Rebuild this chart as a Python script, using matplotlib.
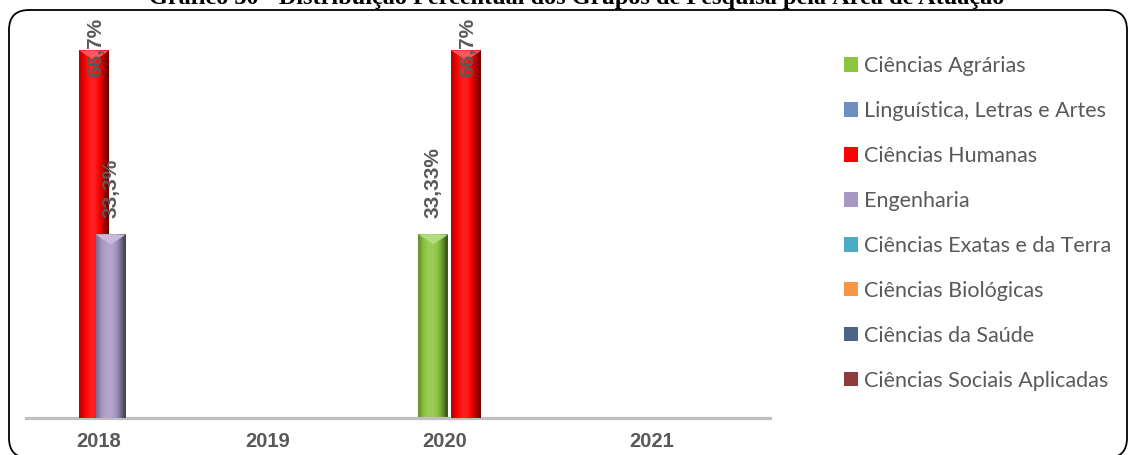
import numpy as np
import matplotlib.pyplot as plt
from matplotlib.colors import to_rgb
from matplotlib.patches import FancyBboxPatch, Patch, Polygon

# dados
anos = ["2018", "2019", "2020", "2021"]
areas = ["Ciências Agrárias", "Linguística, Letras e Artes", "Ciências Humanas",
         "Engenharia", "Ciências Exatas e da Terra", "Ciências Biológicas",
         "Ciências da Saúde", "Ciências Sociais Aplicadas"]
agrarias = [0, 0, 33.33, 0]
linguistica = [0, 0, 0, 0]
humanas = [66.7, 0, 66.7, 0]
engenharia = [33.3, 0, 0, 0]
exatas = [0, 0, 0, 0]
biologicas = [0, 0, 0, 0]
saude = [0, 0, 0, 0]
sociais = [0, 0, 0, 0]
rotulos_agrarias = ["", "", "33,33%", ""]
rotulos_humanas = ["66,7%", "", "66,7%", ""]
rotulos_engenharia = ["33,3%", "", "", ""]

series = [agrarias, linguistica, humanas, engenharia, exatas, biologicas, saude, sociais]
rotulos = [rotulos_agrarias, None, rotulos_humanas, rotulos_engenharia,
           None, None, None, None]
cores = ["#8CC63F", "#6F8FC0", "#FF0000", "#A898C4", "#4BACC6", "#F79646", "#4A6585", "#8E3B3B"]

W, H = 1131, 455
fig = plt.figure(figsize=(W / 100, H / 100), dpi=100)
cinza = "#595959"
fonte_rot = "Liberation Sans"

# moldura arredondada
fig.patches.append(FancyBboxPatch((9, -3), 1118, H - 10 + 3,
                                  boxstyle="round,pad=0,rounding_size=20",
                                  transform=None, fill=False, ec="black", lw=1.3))

fig.text(577 / W, 1 - 4 / H,
         "Gráfico 30 - Distribuição Percentual dos Grupos de Pesquisa pela Área de Atuação",
         ha="center", va="baseline", family="Liberation Serif", weight="bold", fontsize=17.5)

ax = fig.add_axes([26 / W, 37 / H, 744 / W, 400 / H])
ytop = 72.6
passo = 16.5 / 186.5
larg = 30 / 186.5


def barra(ax, x, h, cor, z):
    c = np.array(to_rgb(cor))
    f = np.array([0.75, 0.95, 1.05, 1.12, 1.12, 1.05, 0.9, 0.7, 0.45])
    lin = []
    for k in f:
        if k <= 1:
            lin.append(c * k)
        else:
            lin.append(c + (1 - c) * (k - 1))
    img = np.array(lin)[None, :, :]
    ax.imshow(img, extent=(x - larg / 2, x + larg / 2, 0, h), aspect="auto",
              interpolation="bilinear", zorder=z)
    bev = 1.8
    tri = Polygon([(x - larg / 2, h), (x + larg / 2, h), (x, h - bev)], closed=True,
                  fc=c + (1 - c) * 0.35, ec="none", zorder=z + 0.1)
    ax.add_patch(tri)


for s, vals in enumerate(series):
    for i, v in enumerate(vals):
        if v <= 0:
            continue
        x = i + (s - 3.5) * passo
        barra(ax, x, v, cores[s], 2 + s)
        txt = rotulos[s][i]
        if v > 0.7 * ytop:
            ax.text(x + 0.01, ytop, txt, rotation=90, ha="center", va="top",
                    color=cinza, fontsize=15, weight="bold", family=fonte_rot, zorder=20)
        else:
            ax.annotate(txt, (x, v), xytext=(0, 12), textcoords="offset points",
                        rotation=90, ha="center", va="bottom", color=cinza,
                        fontsize=15, weight="bold", family=fonte_rot, zorder=20)

ax.set_xlim(-0.5, 3.5)
ax.set_ylim(0, ytop)
for sp in ["top", "left", "right"]:
    ax.spines[sp].set_visible(False)
ax.spines["bottom"].set_color("#BFBFBF")
ax.spines["bottom"].set_linewidth(2.3)
ax.set_yticks([])
# posições dos rótulos do eixo como no original
ax.set_xticks([-0.109, 0.798, 1.752, 2.862])
ax.set_xticklabels(anos, fontsize=14.5, weight="bold", color=cinza, family=fonte_rot)
ax.tick_params(axis="x", length=0, pad=10)

handles = [Patch(fc=c, ec="none") for c in cores]
fig.legend(handles, areas, loc="upper left", bbox_to_anchor=(844 / W, 1 - 56 / H),
           frameon=False, prop={"family": "Lato", "size": 15.5},
           labelcolor=cinza, handlelength=0.65, handleheight=0.65,
           handletextpad=0.3, labelspacing=1.16, borderpad=0, borderaxespad=0)

fig.savefig("out.png", dpi=100)
